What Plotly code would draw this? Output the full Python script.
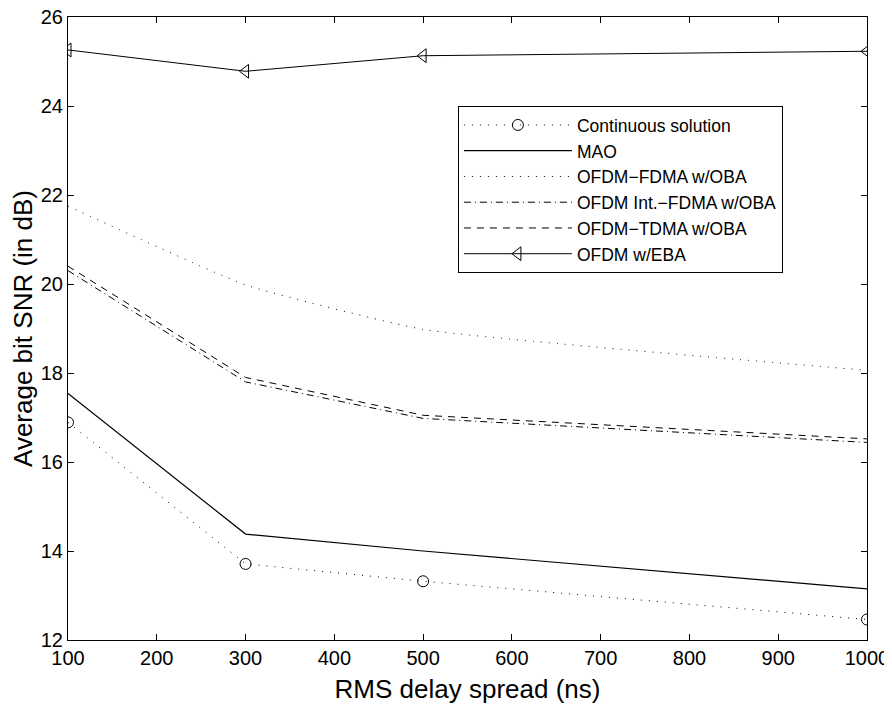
import plotly.graph_objects as go

x_vals = [100, 300, 500, 1000]
continuous = [16.89, 13.71, 13.32, 12.46]
mao = [17.54, 14.38, 14.0, 13.15]
fdma = [21.75, 19.98, 18.98, 18.06]
int_fdma = [20.3, 17.8, 16.98, 16.44]
tdma = [20.4, 17.9, 17.05, 16.52]
eba = [25.26, 24.78, 25.13, 25.23]

x_ticks = [100, 200, 300, 400, 500, 600, 700, 800, 900, 1000]
y_ticks = [12, 14, 16, 18, 20, 22, 24, 26]

FONT = "Liberation Sans, Arial, sans-serif"
dot_dash = "1px,7px"

fig = go.Figure()
fig.add_trace(go.Scatter(x=x_vals, y=continuous, name="Continuous solution",
                         mode="lines+markers",
                         line=dict(color="black", width=1, dash=dot_dash),
                         marker=dict(symbol="circle-open", size=11, color="black", line=dict(width=1))))
fig.add_trace(go.Scatter(x=x_vals, y=mao, name="MAO", mode="lines",
                         line=dict(color="black", width=1.2)))
fig.add_trace(go.Scatter(x=x_vals, y=fdma, name="OFDM\u2212FDMA w/OBA", mode="lines",
                         line=dict(color="black", width=1, dash=dot_dash, shape="spline", smoothing=0.4)))
fig.add_trace(go.Scatter(x=x_vals, y=int_fdma, name="OFDM Int.\u2212FDMA w/OBA", mode="lines",
                         line=dict(color="black", width=1, dash="7px,4px,1px,4px")))
fig.add_trace(go.Scatter(x=x_vals, y=tdma, name="OFDM\u2212TDMA w/OBA", mode="lines",
                         line=dict(color="black", width=1, dash="7px,6px")))
fig.add_trace(go.Scatter(x=x_vals, y=eba, name="OFDM w/EBA", mode="lines+markers",
                         line=dict(color="black", width=1),
                         marker=dict(symbol="triangle-left-open", size=12, color="black", line=dict(width=1))))

axis_common = dict(showgrid=False, zeroline=False, showline=True, linecolor="black", linewidth=1,
                   mirror="ticks", ticks="inside", ticklen=6, tickcolor="black",
                   ticklabeloverflow="allow", automargin=False,
                   tickfont=dict(family=FONT, size=20, color="black"))

fig.update_layout(
    width=884, height=696,
    margin=dict(l=60, r=25, t=9, b=64),
    paper_bgcolor="white", plot_bgcolor="white",
    showlegend=True,
    legend=dict(x=0.488, y=0.857, xanchor="left", yanchor="top",
                bordercolor="black", borderwidth=1, bgcolor="white",
                font=dict(family=FONT, size=17.5, color="black"),
                itemwidth=108, tracegroupgap=0),
    xaxis=dict(range=[100, 1000], tickvals=x_ticks, ticktext=[str(v) for v in x_ticks],
               title=dict(text="RMS delay spread (ns)", font=dict(family=FONT, size=26, color="black")),
               **axis_common),
    yaxis=dict(range=[12, 26], tickvals=y_ticks, ticktext=[str(v) for v in y_ticks],
               title=dict(text="Average bit SNR (in dB)", font=dict(family=FONT, size=26, color="black")),
               **axis_common),
)

fig.write_html("out.html")
